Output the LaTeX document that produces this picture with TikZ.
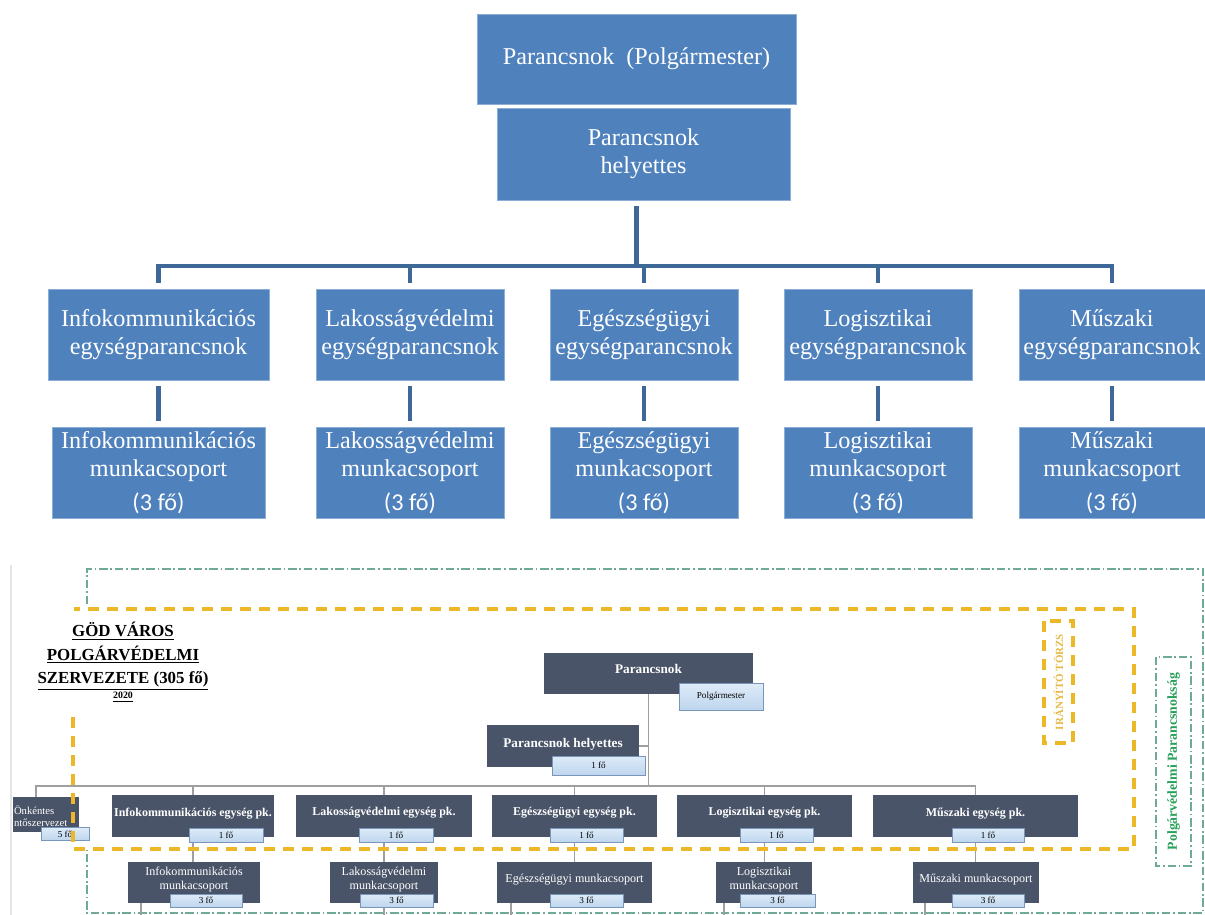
\documentclass[tikz,border=0pt]{standalone}
\usepackage{fontspec}
\setmainfont{Liberation Serif}
\newfontfamily\calfont{Carlito}
\usepackage{tikz}

\definecolor{kek}{RGB}{79,129,189}
\definecolor{kekvonal}{RGB}{62,104,152}
\definecolor{kekszel}{RGB}{140,175,215}
\definecolor{pala}{RGB}{74,84,104}
\definecolor{halvanyfent}{RGB}{222,235,248}
\definecolor{halvanylent}{RGB}{190,214,238}
\definecolor{halvanyszel}{RGB}{120,150,185}
\definecolor{sarga}{RGB}{236,184,40}
\definecolor{sargabetu}{RGB}{228,186,70}
\definecolor{zold}{RGB}{110,170,150}
\definecolor{zoldbetu}{RGB}{40,160,90}

\def\pxu{0.025cm}

\begin{document}
\begin{tikzpicture}[x=\pxu,y=-\pxu,
  kekdoboz/.style={fill=kek,draw=kekszel,line width=0.4pt,text=white,align=center,inner sep=0pt,outer sep=0.15cm,font=\fontsize{17.2}{20}\selectfont},
  kekcsat/.style={draw=kekvonal,line width=3.5pt},
  pala/.style={fill=pala,text=white,align=center,inner sep=0pt},
  fo/.style={top color=halvanyfent,bottom color=halvanylent,draw=halvanyszel,line width=0.6pt,inner sep=0pt,font=\fontsize{6.5}{7}\selectfont},
  szurke/.style={draw=gray!75,line width=0.9pt},
  sargakeret/.style={draw=sarga,line width=2.8pt,dash pattern=on 7.8pt off 5.7pt},
  zoldkeret/.style={draw=zold,line width=0.8pt,dash pattern=on 6pt off 2pt on 1.2pt off 2pt}]
\useasboundingbox (0,0) rectangle (1205,915);

% felso abra
\node[kekdoboz,minimum width=319*\pxu,minimum height=90*\pxu] (pm) at (636.5,59) {Parancsnok\hspace{0.5em}(Polgármester)};
\node[kekdoboz,minimum width=293*\pxu,minimum height=92*\pxu] (ph) at (643.5,154) {Parancsnok\\helyettes};

\foreach \n/\x/\w/\v/\nev in {1/158.5/221/213/Infokommunikációs,2/410/188/188/Lakosságvédelmi,3/644/188/188/Egészségügyi,4/878/188/188/Logisztikai,5/1112/186/186/Műszaki}{
  \node[kekdoboz,minimum width=\w*\pxu,minimum height=91*\pxu] (e\n) at (\x,334.5) {\nev\\egységparancsnok};
  \node[kekdoboz,minimum width=\v*\pxu,minimum height=91*\pxu] (m\n) at (\x,472.5) {\nev\\munkacsoport\\[4pt]{\calfont(3 fő)}};
}

\coordinate (kbusz) at (0,266);
\foreach \n in {1,...,5}{
  \draw[kekcsat] (ph.south -| pm.south) -- (pm.south |- kbusz) -| (e\n.north);
  \draw[kekcsat] (e\n.south) -- (m\n.north);
}

% also abra
\draw[gray!20,line width=2pt] (11,565) -- (11,915);
\draw[zoldkeret] (87,604) -- (87,569) -- (1203,569) -- (1203,913) -- (87,913) -- (87,850);

\node[font=\bfseries\fontsize{12}{16.5}\selectfont,align=center] (cim) at (123,656) {\underline{GÖD VÁROS}\\\underline{POLGÁRVÉDELMI}\\\underline{SZERVEZETE (305 fő)}};
\node[font=\bfseries\fontsize{7}{8}\selectfont] (ev) at (123,697) {\underline{2020}};

\node[pala,font=\bfseries\fontsize{9.4}{11}\selectfont,minimum width=209*\pxu,minimum height=41*\pxu,text depth=6pt] (pk) at (648.5,673.5) {Parancsnok};
\node[pala,font=\bfseries\fontsize{9.4}{11}\selectfont,minimum width=152*\pxu,minimum height=42*\pxu,text depth=5pt] (phely) at (563,746) {Parancsnok helyettes};

\node[pala,font=\fontsize{7.6}{9}\selectfont,align=left,minimum width=66*\pxu,minimum height=35*\pxu,text width=64*\pxu,text depth=6.5pt] (ok) at (46,814.5) {Önkéntes\\ntőszervezet};

\foreach \n/\x/\w/\nev in {1/193/162/Infokommunikációs,2/384/176/Lakosságvédelmi,3/574.5/165/Egészségügyi,4/764.5/175/Logisztikai,5/975.5/205/Műszaki}
  \node[pala,font=\bfseries\fontsize{8.5}{10}\selectfont,minimum width=\w*\pxu,minimum height=42*\pxu,text depth=6pt] (u\n) at (\x,816) {\nev{} egység pk.};

\foreach \n/\x/\w/\nev in {1/194/132/{Infokommunikációs\\munkacsoport},2/384/108/{Lakosságvédelmi\\munkacsoport},3/574.5/155/{Egészségügyi munkacsoport},4/764/96/{Logisztikai\\munkacsoport},5/976/126/{Műszaki munkacsoport}}
  \node[pala,font=\fontsize{8.6}{9.8}\selectfont,minimum width=\w*\pxu,minimum height=41*\pxu,text depth=6pt] (w\n) at (\x,882.5) {\nev};

% vonalak
\coordinate (busz) at (0,786);
\draw[szurke] (phely.east) -- (phely.east -| pk.south);
\draw[szurke] (pk.south) -- (pk.south |- busz) -| ([xshift=-0.25cm]ok.north);
\foreach \n in {1,...,5}{
  \draw[szurke] (pk.south) -- (pk.south |- busz) -| (u\n.north);
  \draw[szurke] (u\n.south) -- (u\n.south |- w\n.north);
}
\foreach \n/\x in {1/141,2/384,3/511,4/724,5/925}{
  \coordinate (ki\n) at (\x,915);
  \draw[szurke] (w\n.south -| ki\n) -- (ki\n);
}

\node[fo,minimum width=84*\pxu,minimum height=27*\pxu] (polg) at (721,696.5) {Polgármester};
\node[fo,minimum width=93*\pxu,minimum height=19*\pxu] (phelyfo) at (598.5,765.5) {1 fő};
\node[fo,minimum width=48*\pxu,minimum height=13*\pxu] (okfo) at (65,834) {5 fő};
\foreach \n/\x/\w in {1/226/74,2/396/74,3/586.5/73,4/776.5/73,5/988/72}
  \node[fo,minimum width=\w*\pxu,minimum height=14*\pxu] (u\n fo) at (\x,835) {1 fő};
\foreach \n/\x/\w in {1/206/72,2/396.5/73,3/586.5/73,4/777.5/75,5/988/72}
  \node[fo,minimum width=\w*\pxu,minimum height=13*\pxu] (w\n fo) at (\x,900.5) {3 fő};

% keretek
\draw[sargakeret] (73,717) -- (73,849) -- (1134,849) -- (1134,609) -- (74,609);
\node[sargakeret,line width=2.2pt,rotate=90,text=sargabetu,font=\bfseries\fontsize{7.8}{9}\selectfont,minimum width=122*\pxu,minimum height=29*\pxu,inner sep=0pt] (torzs) at (1058.5,682) {IRÁNYÍTÓ TÖRZS};
\node[zoldkeret,rotate=90,text=zoldbetu,font=\bfseries\fontsize{9.8}{11}\selectfont,minimum width=209*\pxu,minimum height=35*\pxu,inner sep=0pt] (pvp) at (1173.5,761.5) {Polgárvédelmi Parancsnokság};
\end{tikzpicture}
\end{document}
